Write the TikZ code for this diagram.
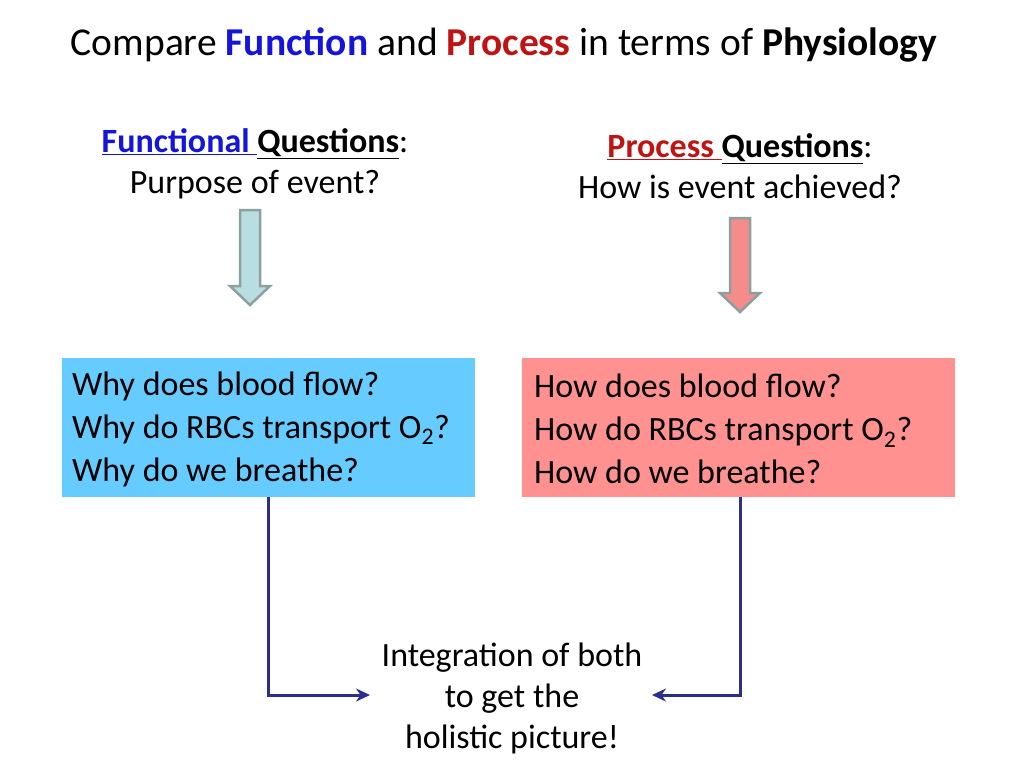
\documentclass[tikz,border=0pt]{standalone}
\usepackage{fontspec}
\setmainfont{Carlito}
\usetikzlibrary{arrows.meta}
\definecolor{fblue}{RGB}{20,20,220}
\definecolor{pred}{RGB}{190,20,20}
\definecolor{lbox}{RGB}{102,204,255}
\definecolor{rbox}{RGB}{255,145,145}
\definecolor{larr}{RGB}{185,222,225}
\definecolor{rarr}{RGB}{245,140,140}
\definecolor{navy}{RGB}{45,45,140}
\definecolor{agray}{RGB}{140,160,160}
\begin{document}
\begin{tikzpicture}[x=1pt,y=-1pt,
  txt/.style={font=\fontsize{34}{41}\selectfont,align=center,inner sep=0pt},
  box/.style={minimum width=#1,minimum height=139pt,anchor=north west,inner sep=0pt},
  btxt/.style={font=\fontsize{34}{43}\selectfont,align=left,anchor=west,inner sep=0pt},
  bigarrow/.style={draw=agray,line width=2.5pt,line join=miter},
  conn/.style={draw=navy,line width=3pt,-{Stealth[length=14pt,width=13pt]}}]
\useasboundingbox (0,0) rectangle (1024,768);
\node[txt,font=\fontsize{39.5}{44}\selectfont] (title) at (504,45) {Compare \textcolor{fblue}{\textbf{Function}} and \textcolor{pred}{\textbf{Process}} in terms of \textbf{Physiology}};
\node[txt] (lh) at (255,164) {\textbf{\textcolor{fblue}{\underline{Functional }}\underline{Questions}}:\\Purpose of event?};
\node[txt] (rh) at (740,166) {\textbf{\textcolor{pred}{\underline{Process }}\underline{Questions}}:\\How is event achieved?};
\draw[bigarrow,fill=larr] (240,210) -- (260,210) -- (260,286) -- (270,286) -- (250,305) -- (230,286) -- (240,286) -- cycle;
\draw[bigarrow,fill=rarr] (730,218) -- (750,218) -- (750,293) -- (760,293) -- (740,312) -- (720,293) -- (730,293) -- cycle;
\node[box=413pt,fill=lbox] (lb) at (62,358) {};
\node[box=433pt,fill=rbox] (rb) at (522,358) {};
\node[btxt] (lt) at (72,429) {Why does blood flow?\\Why do RBCs transport O\textsubscript{2}?\\Why do we breathe?};
\node[btxt] (rt) at (534,429) {How does blood flow?\\How do RBCs transport O\textsubscript{2}?\\How do we breathe?};
\node[txt] (integ) at (512,698) {Integration of both\\to get the\\holistic picture!};
\coordinate (lc) at (268,695);
\coordinate (rc) at (740,695);
\coordinate (le) at (370,695);
\coordinate (re) at (652,695);
\draw[conn] (268,497) -- (lc) -- (le);
\draw[conn] (740,497) -- (rc) -- (re);
\end{tikzpicture}
\end{document}
